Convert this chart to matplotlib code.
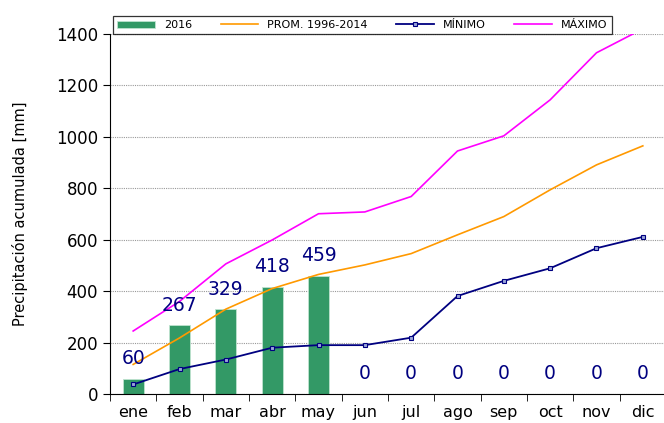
import numpy as np
import matplotlib
matplotlib.use("Agg")
from matplotlib import pyplot as plt

# monthly accumulated precipitation [mm]
meses = ["ene", "feb", "mar", "abr", "may", "jun",
         "jul", "ago", "sep", "oct", "nov", "dic"]
acum_2016 = [60, 267, 329, 418, 459, 0, 0, 0, 0, 0, 0, 0]
promedio = [115, 218, 330, 410, 465, 502, 546, 619, 690, 794, 891, 965]
minimo = [37, 97, 134, 180, 190, 190, 219, 381, 440, 489, 567, 611]
maximo = [245, 360, 506, 599, 701, 708, 768, 945, 1004, 1144, 1327, 1420]

plt.rcParams['font.family'] = ['DejaVu Sans']

fig = plt.figure(figsize=(6.64, 4.23), dpi=100)
ax = fig.add_axes([110/664, 1 - 394/423, 556/664, 360/423])

x = np.arange(len(meses))

b = ax.bar(x, acum_2016, width=0.45, color='#339966',
           edgecolor='#bfe3cf', linewidth=0.6, label='2016', zorder=2)
l1, = ax.plot(x, promedio, color='#FF9900', lw=1.2, label='PROM. 1996-2014', zorder=3)
l2, = ax.plot(x, minimo, color='#000080', lw=1.3, marker='s', ms=3.2,
              mfc='#9aa6d8', mec='#000080', mew=0.8, label='MÍNIMO', zorder=4)
l3, = ax.plot(x, maximo, color='#FF00FF', lw=1.2, label='MÁXIMO', zorder=3)

# data labels
for xi, v in zip(x, acum_2016):
    ax.annotate(str(v), (xi, v), xytext=(0, 14.5), textcoords='offset points',
                ha='center', va='center', fontsize=13.5, color='#000080',
                zorder=5)

ax.set_xlim(-0.5, 11.5)
ax.set_ylim(0, 1400)
ax.set_yticks(np.arange(0, 1401, 200))
ax.set_xticks(x)
ax.set_xticklabels(meses, fontsize=11.5)
ax.set_xticks(np.arange(-0.5, 12, 1), minor=True)
ax.tick_params(axis='x', which='major', length=0, pad=8)
ax.tick_params(axis='x', which='minor', length=5, direction='out', color='black')
ax.tick_params(axis='y', labelsize=12, length=5, direction='out')

ax.yaxis.grid(True, linestyle=(0, (1, 1)), color='#999999', lw=0.8)
ax.set_axisbelow(True)

for s in ['top', 'right']:
    ax.spines[s].set_visible(False)

ax.set_ylabel('Precipitación acumulada [mm]', fontsize=10.5, labelpad=20)

leg = fig.legend([b, l1, l2, l3], ['2016', 'PROM. 1996-2014', 'MÍNIMO', 'MÁXIMO'],
                 loc='center', ncol=4, mode='expand',
                 bbox_to_anchor=(113/664, 1 - 40/423, 499/664, 30/423),
                 fontsize=8, frameon=True, fancybox=False,
                 handlelength=3.4, handleheight=0.6, borderaxespad=0,
                 columnspacing=1.0)
leg.get_frame().set_edgecolor('black')
leg.get_frame().set_linewidth(0.9)

fig.savefig('out.png', dpi=100)
